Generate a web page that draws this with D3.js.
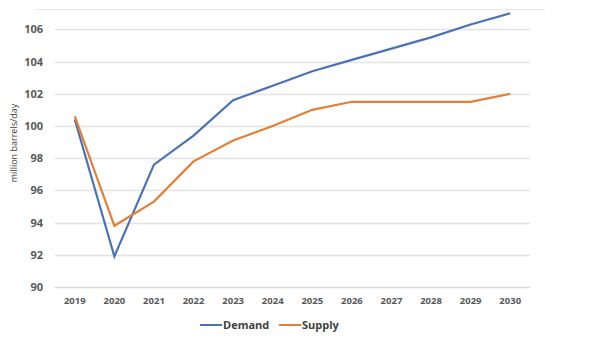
<!DOCTYPE html>
<html>
<head>
<meta charset="utf-8">
<script src="https://cdn.jsdelivr.net/npm/d3@7"></script>
<style>
  body { margin: 0; background: #fff; }
  text { font-family: "Open Sans", "Liberation Sans", sans-serif; }
</style>
</head>
<body>
<div id="container"></div>
<script>
/* DATA */
const years = ['2019', '2020', '2021', '2022', '2023', '2024', '2025', '2026', '2027', '2028', '2029', '2030']
const demand = [100.4, 91.9, 97.6, 99.4, 101.6, 102.5, 103.4, 104.1, 104.8, 105.5, 106.3, 107.0]
const supply = [100.6, 93.8, 95.3, 97.8, 99.1, 100.0, 101.0, 101.5, 101.5, 101.5, 101.5, 102.0]
const yTicks = [90, 92, 94, 96, 98, 100, 102, 104, 106]
const seriesNames = ['Demand', 'Supply']

/* CONSTANTS */
const width = 590,
  height = 344,
  margin = { top: 10, bottom: 57, left: 55, right: 60 }
const colors = { Demand: '#4a72b8', Supply: '#e57e36' }

const svg = d3.select('#container')
  .append('svg')
  .attr('width', width)
  .attr('height', height)

// scales
const xScale = d3.scaleBand()
  .domain(years)
  .range([margin.left, width - margin.right])

const yScale = d3.scaleLinear()
  .domain([90, 107.2])
  .range([height - margin.bottom, margin.top])

// top border line of the plot frame
svg.append('line')
  .attr('x1', 35).attr('x2', 545)
  .attr('y1', 9.5).attr('y2', 9.5)
  .attr('stroke', '#e6e6e6')

// gridlines
svg.append('g')
  .selectAll('line')
  .data(yTicks)
  .join('line')
  .attr('x1', margin.left)
  .attr('x2', width - margin.right)
  .attr('y1', d => Math.round(yScale(d)) + 0.5)
  .attr('y2', d => Math.round(yScale(d)) + 0.5)
  .attr('stroke', d => d === 90 ? '#d9d9d9' : '#e3e3e3')
  .attr('stroke-width', 1.5)

// y axis
const yAxis = d3.axisLeft(yScale).tickValues(yTicks).tickSize(0).tickPadding(12)
svg.append('g')
  .attr('transform', `translate(${margin.left}, 0)`)
  .call(yAxis)
  .call(g => g.select('.domain').remove())
  .call(g => g.selectAll('text')
    .attr('fill', '#595959')
    .style('font-size', '11px')
    .style('font-weight', 'bold'))

// x axis
const xAxis = d3.axisBottom(xScale).tickSize(0).tickPadding(10)
svg.append('g')
  .attr('transform', `translate(0, ${height - margin.bottom})`)
  .call(xAxis)
  .call(g => g.select('.domain').remove())
  .call(g => g.selectAll('text')
    .attr('fill', '#595959')
    .style('font-size', '9.5px')
    .style('font-weight', 'bold'))

// y label
svg.append('text')
  .attr('transform', `translate(17, 143) rotate(-90)`)
  .attr('text-anchor', 'middle')
  .attr('fill', '#404040')
  .style('font-size', '9px')
  .text('million barrels/day')

// lines
const line = d3.line()
  .x((d, i) => xScale(years[i]) + xScale.bandwidth() / 2)
  .y(d => yScale(d))

svg.append('path')
  .datum(demand)
  .attr('fill', 'none')
  .attr('stroke', colors.Demand)
  .attr('stroke-width', 2.2)
  .attr('d', line)

svg.append('path')
  .datum(supply)
  .attr('fill', 'none')
  .attr('stroke', colors.Supply)
  .attr('stroke-width', 2.2)
  .attr('d', line)

// legend
const legendX = [200, 279]
const lg = svg.append('g').attr('transform', 'translate(0, 325)')
  .selectAll('g')
  .data(seriesNames)
  .join('g')
  .attr('transform', (d, i) => `translate(${legendX[i]}, 0)`)

lg.append('line')
  .attr('x1', 0).attr('x2', 22)
  .attr('stroke', d => colors[d])
  .attr('stroke-width', 2)

lg.append('text')
  .attr('x', 23).attr('y', 4)
  .attr('fill', '#404040')
  .style('font-size', '11px')
  .style('font-weight', 'bold')
  .text(d => d)
</script>
</body>
</html>
